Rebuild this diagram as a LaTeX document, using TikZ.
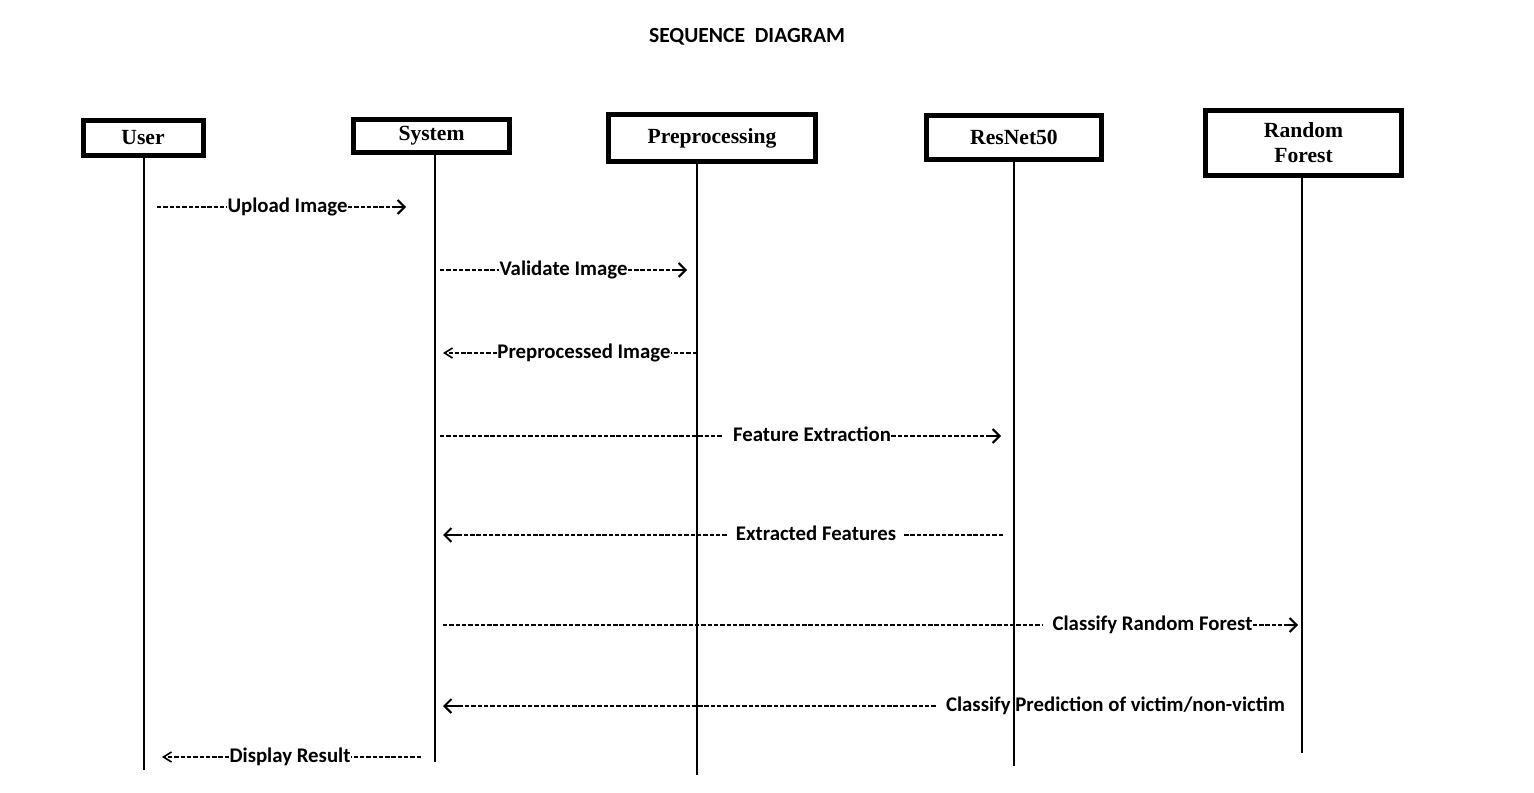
\documentclass[tikz,border=0pt]{standalone}
\usepackage{fontspec}
\setmainfont{Liberation Serif}
\newfontfamily\msgfont{Carlito}
\usetikzlibrary{arrows.meta}

\begin{document}
\begin{tikzpicture}[x=0.5pt, y=-0.5pt,
        obj/.style={draw, line width=2.5pt, inner sep=0pt, align=center, font=\fontsize{10.8}{12.5}\selectfont\bfseries},
        life/.style={line width=1pt},
        lbl/.style={inner sep=0pt, anchor=base, font=\msgfont\fontsize{10.4}{12}\selectfont\bfseries},
        msg/.style={line width=1.1pt, dash pattern=on 2.2pt off 0.95pt},
        tip/.style={line width=1pt, -{Straight Barb[length=3.5pt,width=7pt,line width=1pt]}},
        tipl/.style={line width=1pt, {Straight Barb[length=3.5pt,width=7pt,line width=1pt]}-},
        lt/.style={line width=1.1pt, dash pattern=on 2.2pt off 0.95pt, -{Straight Barb[length=4pt,width=5pt,line width=0.8pt]}}]
        \useasboundingbox (0,0) rectangle (1534,792);

        % title
        \node[font=\msgfont\fontsize{10.8}{13}\selectfont\bfseries] (title) at (747,37) {SEQUENCE\ \ DIAGRAM};

        % objects
        \node[obj, minimum width=60pt, minimum height=17.5pt] (user) at (143,138) {User};
        \node[obj, minimum width=78pt, minimum height=16.5pt] (sys) at (431.5,136) {System};
        \node[obj, minimum width=103.5pt, minimum height=23.5pt] (pre) at (712,138) {Preprocessing};
        \node[obj, minimum width=87.5pt, minimum height=22pt] (res) at (1014,137.5) {ResNet50};
        \node[obj, minimum width=98pt, minimum height=32.5pt] (rf) at (1303.5,143) {Random\\Forest};

        % lifelines
        \coordinate (user-end) at (144,770);
        \coordinate (sys-end) at (435,762);
        \coordinate (pre-end) at (697,775);
        \coordinate (res-end) at (1014,766);
        \coordinate (rf-end) at (1302,753);
        \draw[life] (user-end |- user.south) -- (user-end);
        \draw[life] (sys-end |- sys.south) -- (sys-end);
        \draw[life] (pre-end |- pre.south) -- (pre-end);
        \draw[life] (res-end |- res.south) -- (res-end);
        \draw[life] (rf-end |- rf.south) -- (rf-end);

        % Upload Image
        \coordinate (m1s) at (157,207);
        \coordinate (m1e) at (406,207);
        \node[lbl] (m1) at (287.5,212) {Upload Image};
        \draw[msg] (m1s) -- (m1s -| m1.west);
        \draw[msg] (m1.east |- m1s) -- ([xshift=-7pt]m1e);
        \draw[tip] ([xshift=-7pt]m1e) -- (m1e);

        % Validate Image
        \coordinate (m2s) at (440,270);
        \coordinate (m2e) at (687,270);
        \node[lbl] (m2) at (563.5,275) {Validate Image};
        \draw[msg] (m2s) -- (m2s -| m2.west);
        \draw[msg] (m2.east |- m2s) -- ([xshift=-7pt]m2e);
        \draw[tip] ([xshift=-7pt]m2e) -- (m2e);

        % Preprocessed Image
        \coordinate (m3s) at (697,353);
        \coordinate (m3e) at (443,353);
        \node[lbl] (m3) at (584,358) {Preprocessed Image};
        \draw[msg] (m3s) -- (m3s -| m3.east);
        \draw[lt] (m3.west |- m3s) -- (m3e);

        % Feature Extraction
        \coordinate (m4s) at (440,436);
        \coordinate (m4e) at (1001,436);
        \node[lbl] (m4) at (812,441) {Feature Extraction};
        \draw[msg] (m4s) -- ([xshift=-5pt]m4s -| m4.west);
        \draw[msg] (m4.east |- m4s) -- ([xshift=-7pt]m4e);
        \draw[tip] ([xshift=-7pt]m4e) -- (m4e);

        % Extracted Features
        \coordinate (m5s) at (1003,535);
        \coordinate (m5e) at (443,535);
        \node[lbl] (m5) at (816,540) {Extracted Features};
        \draw[msg] (m5s) -- ([xshift=3pt]m5s -| m5.east);
        \draw[msg] ([xshift=-4.5pt]m5s -| m5.west) -- ([xshift=8pt]m5e);
        \draw[tipl] (m5e) -- ([xshift=8pt]m5e);

        % Classify Random Forest
        \coordinate (m6s) at (443,625);
        \coordinate (m6e) at (1298,625);
        \node[lbl] (m6) at (1152.5,630) {Classify Random Forest};
        \draw[msg] (m6s) -- ([xshift=-5pt]m6s -| m6.west);
        \draw[msg] (m6.east |- m6s) -- ([xshift=-7pt]m6e);
        \draw[tip] ([xshift=-7pt]m6e) -- (m6e);

        % Classify Prediction of victim/non-victim
        \coordinate (m7e) at (443,706);
        \node[lbl] (m7) at (1115.5,711) {Classify Prediction of victim/non-victim};
        \draw[msg] ([xshift=-5pt]m7e -| m7.west) -- ([xshift=8pt]m7e);
        \draw[tipl] (m7e) -- ([xshift=8pt]m7e);

        % Display Result
        \coordinate (m8s) at (421,757);
        \coordinate (m8e) at (162,757);
        \node[lbl] (m8) at (290,762) {Display Result};
        \draw[msg] (m8s) -- (m8s -| m8.east);
        \draw[lt] (m8.west |- m8s) -- (m8e);
    \end{tikzpicture}
\end{document}
